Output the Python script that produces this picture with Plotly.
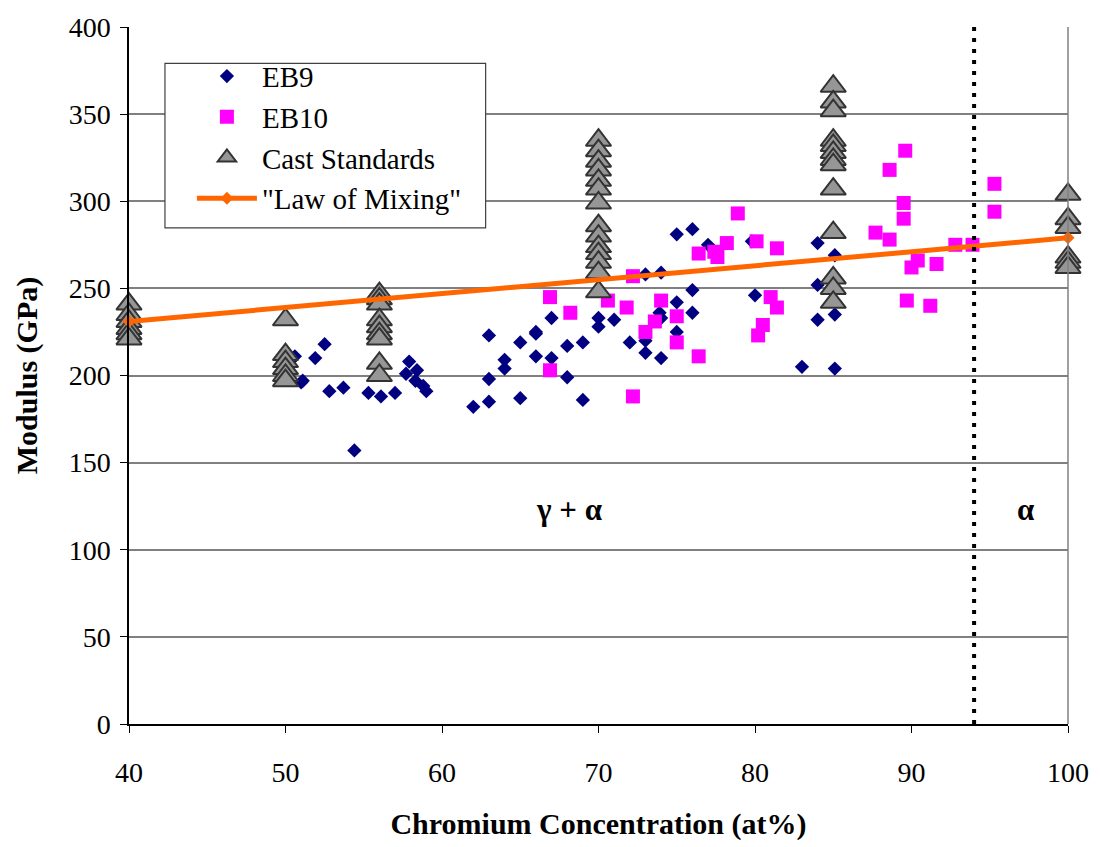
import plotly.graph_objects as go

# --- Data -----------------------------------------------------------------
eb9_x = [50.6, 51.0, 51.1, 51.9, 52.5, 52.8, 53.7, 54.4, 55.3, 56.1, 57.0, 57.7,
         57.9, 58.3, 58.4, 58.8, 59.0, 62.0, 63.0, 63.0, 63.0, 64.0, 64.0, 65.0,
         65.0, 66.0, 66.0, 66.0, 67.0, 67.0, 68.0, 68.0, 69.0, 69.0, 70.0, 70.0,
         71.0, 72.0, 73.0, 73.0, 73.0, 73.9, 74.0, 74.0, 74.0, 75.0, 75.0, 75.0,
         76.0, 76.0, 76.0, 77.0, 79.8, 80.0, 83.0, 84.0, 84.0, 84.0, 85.1, 85.1,
         85.1]
eb9_y = [211, 196, 197, 210, 218, 191, 193, 157, 190, 188, 190, 201,
         208, 197, 203, 194, 191, 182, 223, 198, 185, 209, 204, 219,
         187, 225, 224, 211, 233, 210, 217, 199, 219, 186, 233, 228,
         232, 219, 258, 220, 213, 236, 233, 259, 210, 281, 242, 225,
         284, 249, 236, 275, 277, 246, 205, 276, 252, 232, 269, 235,
         204]

eb10_x = [66.9, 66.9, 68.2, 70.6, 71.8, 72.2, 72.2, 73.0, 73.6, 74.0, 75.0, 75.0,
          76.4, 76.4, 77.4, 77.6, 78.2, 78.9, 80.1, 80.2, 80.5, 81.0, 81.4, 81.4,
          87.7, 88.6, 88.6, 89.5, 89.5, 89.6, 89.7, 90.0, 90.4, 91.2, 91.6, 92.8,
          93.9, 95.3, 95.3]
eb10_y = [245, 203, 236, 243, 239, 257, 188, 225, 231, 243, 234, 219,
          211, 270, 271, 268, 276, 293, 277, 223, 229, 245, 239, 273,
          282, 278, 318, 299, 290, 329, 243, 262, 266, 240, 264, 275,
          275, 310, 294]

cast_x = ([40] * 6 + [50] * 6 + [56] * 9 + [70] * 14 + [85] * 13 + [100] * 6)
cast_y = ([241, 235, 231, 227, 224, 221] +
          [232, 212, 208, 204, 200, 197] +
          [247, 244, 241, 232, 228, 224, 221, 207, 200] +
          [335, 329, 323, 318, 312, 307, 299, 286, 280, 274, 270, 265, 259, 248] +
          [366, 357, 352, 335, 332, 328, 324, 321, 307, 282, 256, 250, 242] +
          [304, 290, 285, 268, 265, 262])

mixing_x = [40, 100]
mixing_y = [231, 279]

phase_boundary = 94          # gamma+alpha / alpha boundary (at% Cr)
x_ticks = [40, 50, 60, 70, 80, 90, 100]
y_ticks = [0, 50, 100, 150, 200, 250, 300, 350, 400]

SERIF = "Liberation Serif"

fig = go.Figure()

fig.add_trace(go.Scatter(
    x=eb9_x, y=eb9_y, mode="markers", name="EB9",
    marker=dict(symbol="diamond", size=11, color="#000080"),
    cliponaxis=False))

fig.add_trace(go.Scatter(
    x=eb10_x, y=eb10_y, mode="markers", name="EB10",
    marker=dict(symbol="square", size=14, color="#FF00FF"),
    cliponaxis=False))

fig.add_trace(go.Scatter(
    x=cast_x, y=cast_y, mode="markers", name="Cast Standards",
    marker=dict(symbol="triangle-up", size=22, color="#969696",
                line=dict(color="#333333", width=2)),
    cliponaxis=False))

fig.add_trace(go.Scatter(
    x=mixing_x, y=mixing_y, mode="lines+markers", name='"Law of Mixing"',
    line=dict(color="#FF6600", width=5),
    marker=dict(symbol="diamond", size=10, color="#FF6600"),
    cliponaxis=False))

# phase boundary
fig.add_shape(type="line", xref="x", yref="y",
              x0=phase_boundary, x1=phase_boundary, y0=0, y1=400,
              line=dict(color="black", width=4, dash="4px,7px"))

# right border of the plot area
fig.add_shape(type="line", xref="paper", yref="paper",
              x0=1, x1=1, y0=0, y1=1,
              line=dict(color="#808080", width=1.5))

# frame around the legend (drawn separately to leave a left inset)
fig.add_shape(type="rect", xref="paper", yref="paper",
              x0=0.0383, x1=0.3798, y0=0.7119, y1=0.9477,
              line=dict(color="#404040", width=1.2), fillcolor="white",
              layer="above")

fig.add_annotation(x=68.1, y=123, text="<b>γ + α</b>", showarrow=False,
                   font=dict(family=SERIF, size=31, color="black"))
fig.add_annotation(x=97.3, y=123, text="<b>α</b>", showarrow=False,
                   font=dict(family=SERIF, size=31, color="black"))

fig.update_layout(
    width=1101, height=847,
    margin=dict(l=129, r=32, t=18, b=121),
    paper_bgcolor="white", plot_bgcolor="white",
    font=dict(family=SERIF, size=28, color="black"),
    showlegend=True,
    legend=dict(x=0.067, y=0.966, xanchor="left", yanchor="top",
                bgcolor="rgba(0,0,0,0)", borderwidth=0,
                font=dict(family=SERIF, size=29, color="black"),
                itemsizing="trace", itemwidth=60),
    xaxis=dict(range=[40, 100], tickvals=x_ticks, ticks="outside", ticklen=7,
               tickcolor="black", showgrid=False, zeroline=False,
               showline=True, linecolor="black", linewidth=1.5,
               ticklabelstandoff=16,
               tickfont=dict(family=SERIF, size=28),
               title=dict(text="<b>Chromium Concentration (at%)</b>",
                          font=dict(family=SERIF, size=30), standoff=26)),
    yaxis=dict(range=[0, 400], tickvals=y_ticks, ticks="outside", ticklen=7,
               tickcolor="black", showgrid=True, gridcolor="#808080",
               gridwidth=1.5, zeroline=False,
               showline=True, linecolor="black", linewidth=1.5,
               ticklabelstandoff=4,
               tickfont=dict(family=SERIF, size=28),
               title=dict(text="<b>Modulus (GPa)</b>",
                          font=dict(family=SERIF, size=30), standoff=22)),
)

fig.write_html("out.html")
